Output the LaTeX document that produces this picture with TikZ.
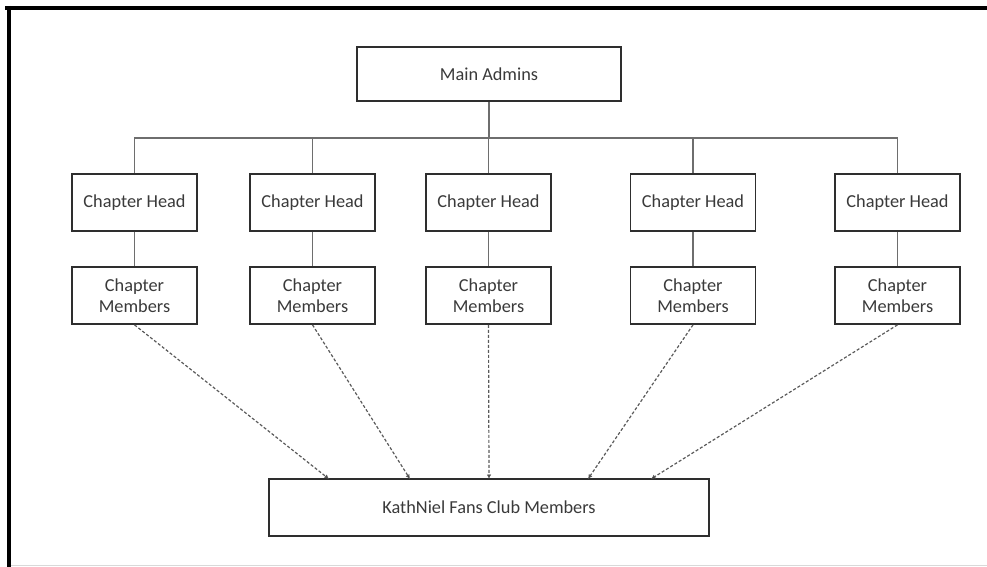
\documentclass[tikz,border=0pt]{standalone}
\usepackage{fontspec}
\setmainfont{Carlito}
\usetikzlibrary{arrows.meta,calc}
\definecolor{boxline}{HTML}{2E2E2E}
\definecolor{txt}{HTML}{3A3A3A}
\definecolor{conn}{HTML}{6E6E6E}
\definecolor{dashc}{HTML}{5A5A5A}
\tikzset{
  box/.style={draw=boxline, line width=1.7pt, fill=white, inner sep=0pt, text=txt,
    font=\fontsize{18.3}{21.5}\selectfont, align=center},
  headbox/.style={box, minimum width=125pt, minimum height=57pt},
  conline/.style={draw=conn, line width=1.2pt},
  dashline/.style={draw=dashc, line width=1.2pt, dash pattern=on 3pt off 2pt,
    -{Latex[length=4.5pt,width=4.5pt,fill=black]}}
}
\begin{document}
\begin{tikzpicture}[x=1pt,y=-1pt]
\useasboundingbox (0,0) rectangle (987,567);
% frame
\draw[black, line width=4pt] (5,8) -- (987,8);
\draw[black, line width=4pt] (9,6) -- (9,567);
\draw[gray!30, line width=1.5pt] (11,565.5) -- (987,565.5);
% nodes
\node[box, minimum width=264pt, minimum height=54pt] (main) at (489,74) {Main Admins};
\coordinate (bus) at (489,138);
\foreach \i/\x in {1/134.5,2/312.5,3/488.5,4/693,5/897.5}{
  \node[headbox] (ch\i) at (\x,202.5) {Chapter Head};
  \node[headbox] (cm\i) at (\x,295.5) {Chapter\\Members};
}
\node[box, minimum width=440pt, minimum height=57pt] (kfc) at (489,507.5) {KathNiel Fans Club Members};
\foreach \i/\x in {1/329,2/410,3/489,4/588,5/651}{
  \coordinate (e\i) at (\x,479);
}
% connectors
\draw[conline] (main.south) -- (bus);
\foreach \i in {1,...,5}{
  \draw[conline] (ch\i.north) |- (bus);
  \draw[conline] (ch\i.south) -- (cm\i.north);
  \draw[dashline] (cm\i.south) -- (e\i);
}
\end{tikzpicture}
\end{document}
